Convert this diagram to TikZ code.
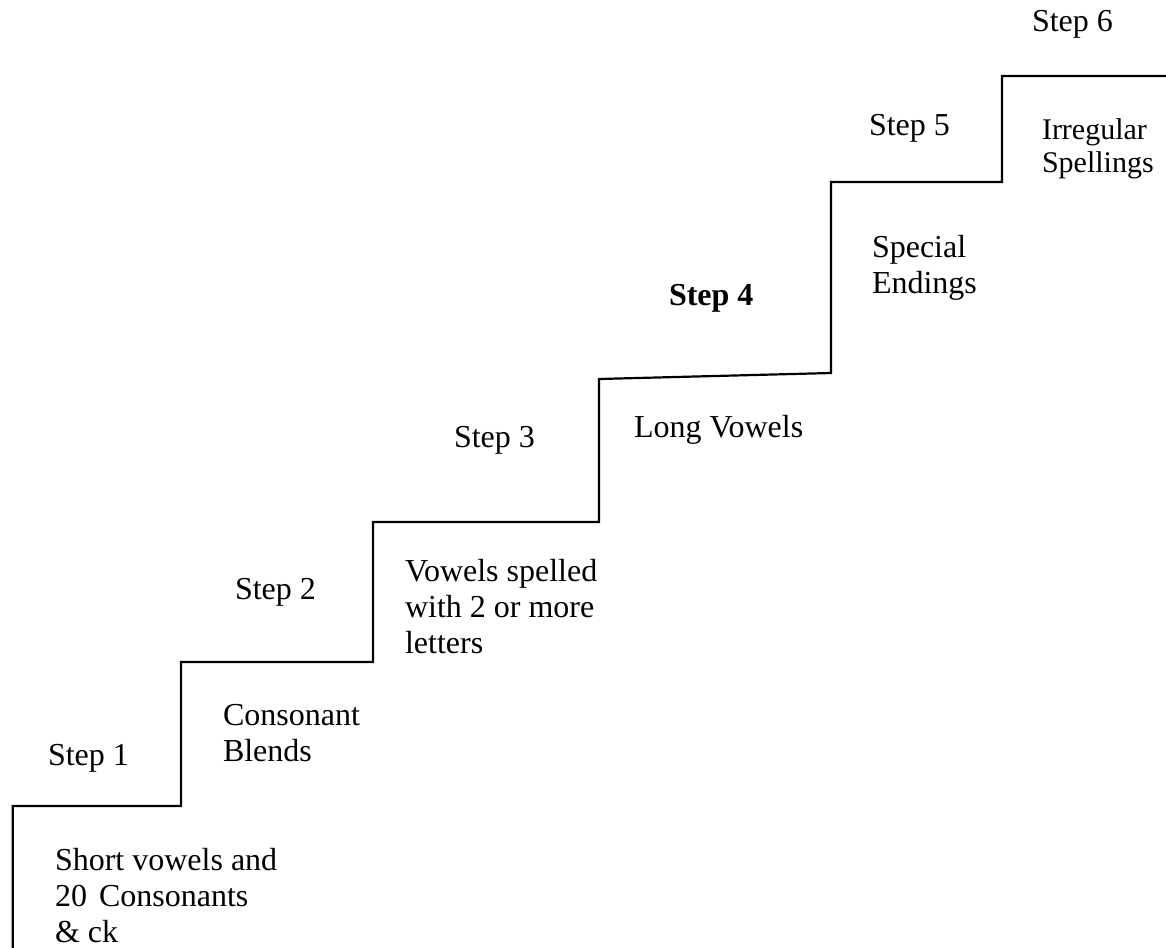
\documentclass[tikz,border=0pt]{standalone}
\usepackage{fontspec}
\setmainfont{Liberation Serif}
\newcommand{\lines}[2][18pt]{\vtop{\baselineskip=#1\relax\lineskiplimit=-20pt #2}}
\begin{document}
\begin{tikzpicture}[x=0.5pt,y=-0.5pt,
  lbl/.style={anchor=base west,inner sep=0pt,outer sep=0pt,font=\fontsize{16}{18}\selectfont},
  stair/.style={line width=1.1pt,line join=miter}]
\useasboundingbox (0,0) rectangle (1166,947);
\draw[stair] (12.7,948) -- (12.7,806) -- (181,806) -- (181,662) -- (373,662)
  -- (373,522) -- (599,522) -- (599,379) -- (831,373) -- (831,182)
  -- (1002,182) -- (1002,76) -- (1166,76);
\node[lbl] (s1) at (48,765) {Step 1};
\node[lbl] (s2) at (235,599) {Step 2};
\node[lbl] (s3) at (454,447) {Step 3};
\node[lbl,font=\fontsize{16}{18}\selectfont\bfseries] (s4) at (669,305) {Step 4};
\node[lbl] (s5) at (869,135) {Step 5};
\node[lbl] (s6) at (1032,32) {Step 6};
\node[lbl] (t1) at (55,870) {\lines{\hbox{Short vowels and}\hbox{20\hspace{0.375em}Consonants}\hbox{\& ck}}};
\node[lbl] (t2) at (223,725) {\lines{\hbox{Consonant}\hbox{Blends}}};
\node[lbl] (t3) at (405,581) {\lines{\hbox{Vowels spelled}\hbox{with 2 or more}\hbox{letters}}};
\node[lbl] (t4) at (634,437) {Long Vowels};
\node[lbl] (t5) at (872,257) {\lines{\hbox{Special}\hbox{Endings}}};
\node[lbl,font=\fontsize{15}{17}\selectfont] (t6) at (1042,140) {\lines[16.5pt]{\hbox{Irregular}\hbox{Spellings}}};
\end{tikzpicture}
\end{document}
